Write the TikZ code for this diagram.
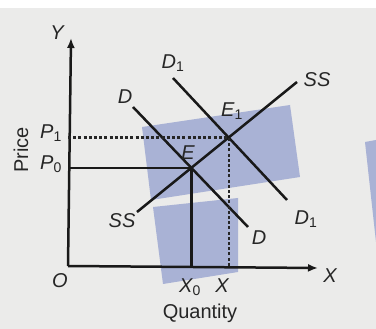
\documentclass[tikz,border=0pt]{standalone}
\usepackage{fontspec}
\setmainfont{Liberation Sans}
\usetikzlibrary{positioning,arrows.meta}
\definecolor{paper}{HTML}{EBEBEA}
\definecolor{hiblue}{HTML}{A9B2D5}
\tikzset{
  curve/.style={line width=2.5pt,draw=black!90},
  axis/.style={line width=2.5pt,draw=black!90,-{Latex[length=10pt,width=8pt]}},
  guide/.style={line width=2.2pt,draw=black!85,dash pattern=on 3pt off 2.2pt},
  lbl/.style={font=\fontsize{20}{22}\selectfont\itshape,text=black!85,inner sep=1pt},
  word/.style={font=\fontsize{20}{22}\selectfont,text=black!85,inner sep=1pt}
}
\begin{document}
\begin{tikzpicture}[x=1pt,y=-1pt]
\useasboundingbox (0,0) rectangle (376,329);
\fill[white] (0,0) rectangle (376,329);
\fill[paper] (0,8) rectangle (376,329);
% highlight patches
\fill[hiblue] (142,127) -- (290,105) -- (300,177) -- (151,200) -- cycle;
\fill[hiblue] (153,207) -- (238,198) -- (238,272) -- (163,284) -- cycle;
\fill[hiblue] (365,142) -- (376,140) -- (376,242) -- cycle;
% axes
\coordinate (O) at (68,266);
\coordinate (ytop) at (71,38);
\coordinate (xend) at (318,268);
\draw[axis] (O) -- (ytop);
\draw[axis] (O) -- (xend);
% curves
\coordinate (dtop) at (133,107);
\coordinate (dbot) at (248,227);
\coordinate (donetop) at (173,78);
\coordinate (donebot) at (287,200);
\coordinate (sbot) at (137,212);
\coordinate (stop) at (297,82);
\draw[curve] (dtop) -- (dbot);
\draw[curve] (donetop) -- (donebot);
\draw[curve] (sbot) -- (stop);
\coordinate (E) at (intersection of dtop--dbot and sbot--stop);
\coordinate (E1) at (intersection of donetop--donebot and sbot--stop);
% price and quantity lines
\draw[curve] (O |- E) -- (E) -- (E |- O);
\draw[guide] (O |- E1) -- (E1) -- (E1 |- O);
% labels
\node[lbl] (ylab) at (57,33) {Y};
\node[lbl] (xlab) at (330,276) {X};
\node[lbl] (olab) at (60,281) {O};
\node[lbl] (p1) at (51,133) {P\textsubscript{\upshape 1}};
\node[lbl] (p0) at (51,164) {P\textsubscript{\upshape 0}};
\node[word,rotate=90] (price) at (21,150) {Price};
\node[lbl] (dlab) at (125,97) {D};
\node[lbl] (dlab2) at (259,238) {D};
\node[lbl] (donelab) at (173,63) {D\textsubscript{\upshape 1}};
\node[lbl] (donelab2) at (306,219) {D\textsubscript{\upshape 1}};
\node[lbl] (slab) at (122,221) {SS};
\node[lbl] (slab2) at (317,80) {SS};
\node[lbl] (elab) at (188,153) {E};
\node[lbl] (eonelab) at (232,111) {E\textsubscript{\upshape 1}};
\node[lbl] (xzero) at (190,287) {X\textsubscript{\upshape 0}};
\node[lbl] (xone) at (222,286) {X};
\node[word] (qty) at (200,313) {Quantity};
\end{tikzpicture}
\end{document}
